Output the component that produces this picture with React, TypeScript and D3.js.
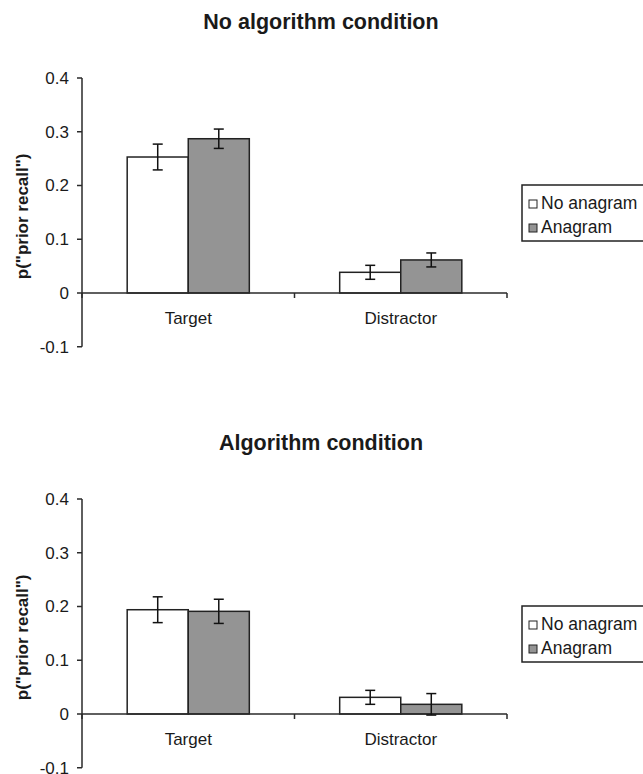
import React from "react";
import * as d3 from "d3";

const categories = ["Target", "Distractor"];
const seriesNames = ["No anagram", "Anagram"];
const seriesColors = ["#ffffff", "#949494"];
const panelTitles = ["No algorithm condition", "Algorithm condition"];
// values[category][series]
const noAlgoValues = [
  [0.253, 0.287],
  [0.0385, 0.0615],
];
const noAlgoErrors = [
  [0.024, 0.018],
  [0.013, 0.013],
];
const algoValues = [
  [0.194, 0.191],
  [0.031, 0.018],
];
const algoErrors = [
  [0.024, 0.0225],
  [0.013, 0.02],
];
const yTicks = [-0.1, 0, 0.1, 0.2, 0.3, 0.4];
const yTickLabels = ["-0.1", "0", "0.1", "0.2", "0.3", "0.4"];
const yLabel = 'p("prior recall")';

const FONT = "'Liberation Sans', Arial, Helvetica, sans-serif";
const AXIS = "#2a2a2a";

function Panel({ offsetY, title, values, errors }) {
  const y = d3.scaleLinear().domain([-0.1, 0.4]).range([346.75, 78]);
  const x = d3.scaleBand().domain(categories).range([82, 507]).paddingInner(0).paddingOuter(0);
  const xs = d3
    .scaleBand()
    .domain(seriesNames)
    .range([0, x.bandwidth()])
    .paddingInner(0)
    .paddingOuter(0.74);
  const y0 = y(0);
  return (
    <g transform={`translate(0,${offsetY})`}>
      <text x={321} y={29} textAnchor="middle" fontFamily={FONT} fontWeight="bold" fontSize={21.5} fill="#1a1a1a">
        {title}
      </text>
      <text
        transform={`translate(28,${(y(0.4) + y(-0.1)) / 2 + 4}) rotate(-90)`}
        textAnchor="middle"
        fontFamily={FONT}
        fontWeight="bold"
        fontSize={17}
        fill="#1a1a1a"
      >
        {yLabel}
      </text>
      {/* bars */}
      {categories.map((c, ci) =>
        seriesNames.map((s, si) => {
          const v = values[ci][si];
          const bx = x(c) + xs(s);
          return (
            <rect
              key={c + s}
              x={bx}
              y={y(v)}
              width={xs.bandwidth()}
              height={y0 - y(v)}
              fill={seriesColors[si]}
              stroke="#222"
              strokeWidth={1.5}
            />
          );
        })
      )}
      {/* y axis */}
      <line x1={82} x2={82} y1={y(0.4)} y2={y(-0.1)} stroke={AXIS} strokeWidth={1.5} />
      {yTicks.map((t, i) => (
        <g key={t}>
          <line x1={77} x2={82} y1={y(t)} y2={y(t)} stroke={AXIS} strokeWidth={1.5} />
          <text
            x={69}
            y={y(t)}
            dy="0.35em"
            textAnchor="end"
            fontFamily={FONT}
            fontSize={17}
            fill="#1a1a1a"
          >
            {yTickLabels[i]}
          </text>
        </g>
      ))}
      {/* x axis */}
      <line x1={82} x2={507} y1={y0} y2={y0} stroke={AXIS} strokeWidth={1.5} />
      {[x.range()[0], ...categories.map((c) => x(c) + x.bandwidth())].map((tx, i) => (
        <line key={i} x1={tx} x2={tx} y1={y0} y2={y0 + 5} stroke={AXIS} strokeWidth={1.5} />
      ))}
      {categories.map((c) => (
        <text
          key={c}
          x={x(c) + x.bandwidth() / 2}
          y={y0 + 31}
          textAnchor="middle"
          fontFamily={FONT}
          fontSize={17}
          fill="#1a1a1a"
        >
          {c}
        </text>
      ))}
      {/* error bars */}
      {categories.map((c, ci) =>
        seriesNames.map((s, si) => {
          const v = values[ci][si];
          const e = errors[ci][si];
          const cx = x(c) + xs(s) + xs.bandwidth() / 2;
          return (
            <g key={"e" + c + s} stroke="#111" strokeWidth={1.5}>
              <line x1={cx} x2={cx} y1={y(v + e)} y2={y(v - e)} />
              <line x1={cx - 5} x2={cx + 5} y1={y(v + e)} y2={y(v + e)} />
              <line x1={cx - 5} x2={cx + 5} y1={y(v - e)} y2={y(v - e)} />
            </g>
          );
        })
      )}
      {/* legend */}
      <rect x={522} y={185} width={140} height={56} fill="#fff" stroke="#222" strokeWidth={1.5} />
      {seriesNames.map((s, i) => (
        <g key={s} transform={`translate(0,${203 + i * 24})`}>
          <rect x={529} y={-3} width={8} height={8} fill={seriesColors[i]} stroke="#222" strokeWidth={1} />
          <text x={541} y={0} dy="0.35em" fontFamily={FONT} fontSize={17.5} fill="#1a1a1a">
            {s}
          </text>
        </g>
      ))}
    </g>
  );
}

export default function App() {
  return (
    <svg
      width={643}
      height={774}
      style={{ position: "absolute", left: 0, top: 0, background: "#fff" }}
    >
      <rect width={643} height={774} fill="#fff" />
      <Panel offsetY={0} title={panelTitles[0]} values={noAlgoValues} errors={noAlgoErrors} />
      <Panel offsetY={421} title={panelTitles[1]} values={algoValues} errors={algoErrors} />
    </svg>
  );
}
